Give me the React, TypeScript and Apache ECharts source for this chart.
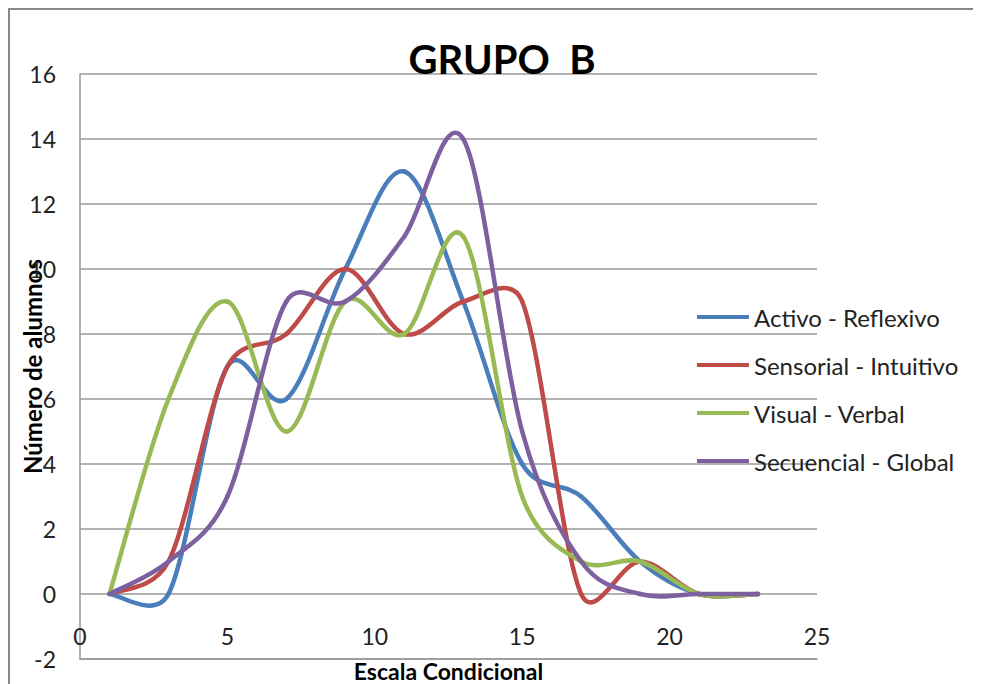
import React, { useEffect, useRef } from "react";
import * as echarts from "echarts";

const xValues = [1, 3, 5, 7, 9, 11, 13, 15, 17, 19, 21, 23];
const seriesNames = [
  "Activo - Reflexivo",
  "Sensorial - Intuitivo",
  "Visual - Verbal",
  "Secuencial - Global",
];
const activoReflexivo = [0, 0, 7, 6, 10, 13, 9, 4, 3, 1, 0, 0];
const sensorialIntuitivo = [0, 1, 7, 8, 10, 8, 9, 9, 0, 1, 0, 0];
const visualVerbal = [0, 6, 9, 5, 9, 8, 11, 3, 1, 1, 0, 0];
const secuencialGlobal = [0, 1, 3, 9, 9, 11, 14, 5, 1, 0, 0, 0];
const seriesValues = [activoReflexivo, sensorialIntuitivo, visualVerbal, secuencialGlobal];
const colors = ["#4A7EBB", "#BE4B48", "#98B954", "#7D60A0"];

const TENSION = 1 / 6;
const MAX_RATIO = 0.5;

function makeRenderItem(vals: number[], color: string) {
  return (params: any, api: any) => {
    const i = params.dataIndex;
    const n = vals.length;
    if (i >= n - 1) return null;
    const pt = (k: number) => {
      const kk = Math.max(0, Math.min(n - 1, k));
      return api.coord([xValues[kk], vals[kk]]) as number[];
    };
    const p0 = pt(i - 1);
    const p1 = pt(i);
    const p2 = pt(i + 1);
    const p3 = pt(i + 2);
    const d12 = Math.hypot(p2[0] - p1[0], p2[1] - p1[1]);
    const limit = (v: number[]) => {
      const len = Math.hypot(v[0], v[1]);
      const maxLen = d12 * MAX_RATIO;
      if (len > maxLen && len > 0) return [(v[0] * maxLen) / len, (v[1] * maxLen) / len];
      return v;
    };
    const t1 = limit([(p2[0] - p0[0]) * TENSION, (p2[1] - p0[1]) * TENSION]);
    const t2 = limit([(p3[0] - p1[0]) * TENSION, (p3[1] - p1[1]) * TENSION]);
    return {
      type: "bezierCurve",
      shape: {
        x1: p1[0], y1: p1[1], x2: p2[0], y2: p2[1],
        cpx1: p1[0] + t1[0], cpy1: p1[1] + t1[1],
        cpx2: p2[0] - t2[0], cpy2: p2[1] - t2[1],
      },
      style: { stroke: color, lineWidth: 4.5, fill: "none", lineCap: "round", lineJoin: "round" },
    };
  };
}

export default function App() {
  const ref = useRef<HTMLDivElement>(null);
  useEffect(() => {
    if (!ref.current) return;
    const chart = echarts.init(ref.current, undefined, { renderer: "svg" });
    const font = "Lato, 'Open Sans', sans-serif";
    chart.setOption({
      animation: false,
      backgroundColor: "#ffffff",
      title: {
        text: "GRUPO  B",
        left: 489,
        textAlign: "center",
        top: 26,
        textStyle: { fontFamily: font, fontWeight: "bold", fontSize: 40, color: "#000" },
      },
      graphic: [
        { type: "line", shape: { x1: 0, y1: 1, x2: 973, y2: 1 }, style: { stroke: "#888", lineWidth: 2 } },
        { type: "line", shape: { x1: 1, y1: 0, x2: 1, y2: 676 }, style: { stroke: "#888", lineWidth: 2 } },
      ],
      legend: {
        orient: "vertical",
        left: 684,
        top: 290,
        padding: 5,
        icon: "rect",
        itemWidth: 52,
        itemHeight: 4,
        itemGap: 20,
        data: seriesNames,
        textStyle: { fontFamily: font, fontSize: 24, color: "#222", lineHeight: 28 },
      },
      grid: { left: 72, top: 66, right: 164, bottom: 25, containLabel: false, outerBoundsMode: "none" },
      xAxis: {
        type: "value",
        min: 0,
        max: 25,
        interval: 5,
        name: "Escala Condicional",
        nameLocation: "middle",
        nameGap: 1,
        nameMoveOverlap: false,
        nameTextStyle: {
          fontFamily: font, fontWeight: "bold", fontSize: 23, lineHeight: 21,
          color: "#000", verticalAlign: "top",
        },
        axisLine: { show: true, onZero: false, lineStyle: { color: "#999", width: 1.5 } },
        axisTick: { show: false },
        splitLine: { show: false },
        axisLabel: { inside: true, margin: 12, fontFamily: font, fontSize: 23, color: "#222" },
      },
      yAxis: {
        type: "value",
        min: -2,
        max: 16,
        interval: 2,
        name: "Número de alumnos",
        nameLocation: "middle",
        nameGap: 36,
        nameMoveOverlap: false,
        nameTextStyle: { fontFamily: font, fontWeight: "bold", fontSize: 24, color: "#000" },
        axisLine: { show: true, lineStyle: { color: "#999", width: 1.5 } },
        axisTick: { show: false },
        splitLine: { show: true, lineStyle: { color: "#999", width: 1.5 } },
        axisLabel: { margin: 24, fontFamily: font, fontSize: 23, color: "#222" },
      },
      series: seriesValues.map((vals, i) => ({
        name: seriesNames[i],
        type: "custom",
        coordinateSystem: "cartesian2d",
        renderItem: makeRenderItem(vals, colors[i]),
        data: vals.map((v, j) => [xValues[j], v]),
        encode: { x: 0, y: 1 },
        itemStyle: { color: colors[i] },
        clip: false,
        z: 2 + i,
      })),
    });
    return () => chart.dispose();
  }, []);
  return <div ref={ref} style={{ width: 973, height: 676 }} />;
}
